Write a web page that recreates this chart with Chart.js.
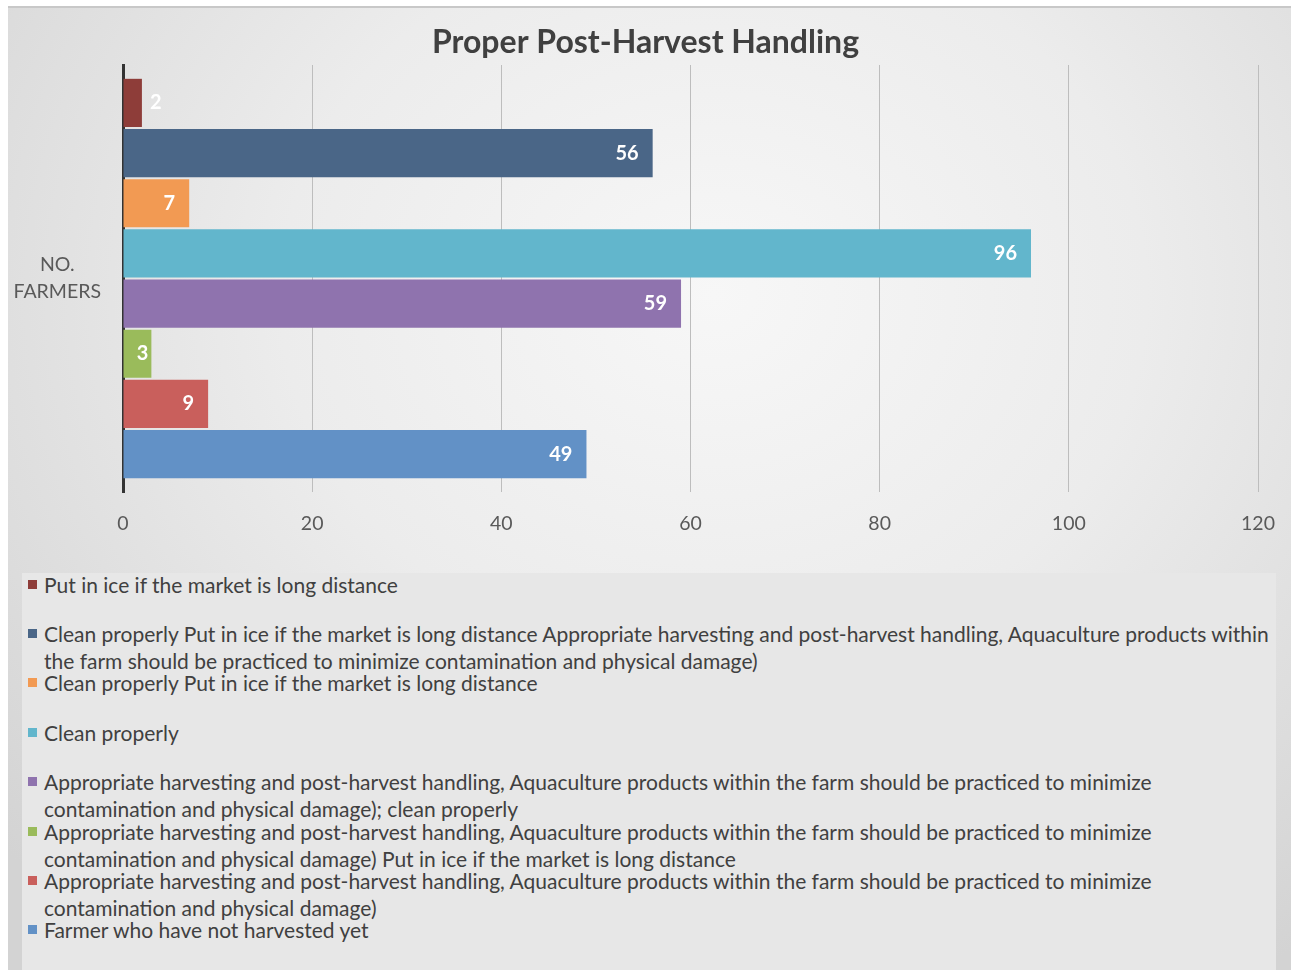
<!DOCTYPE html>
<html>
<head>
<meta charset="utf-8">
<script src="https://cdn.jsdelivr.net/npm/chart.js@4.4.1/dist/chart.umd.min.js"></script>
<style>
    body {
        margin: 0;
        width: 1291px;
        height: 970px;
        overflow: hidden;
        background: #fff;
        font-family: Lato, "Open Sans", sans-serif;
    }
    #frame {
        position: absolute;
        left: 8px;
        top: 6px;
        width: 1283px;
        height: 964px;
        background: radial-gradient(ellipse 75% 85% at 55% 30%, #f7f7f7 0%, #ececec 45%, #d3d3d3 100%);
    }
    #topLine {
        position: absolute;
        left: 0;
        top: 0;
        width: 100%;
        height: 2px;
        background: #c8c8c8;
    }
    #chart {
        position: absolute;
        left: 0;
        top: 0;
    }
    #legend {
        position: absolute;
        left: 14px;
        top: 567px;
        width: 1254px;
        height: 397px;
        background: #e7e7e7;
    }
    .legend-item {
        position: absolute;
        left: 6px;
        width: 1254px;
        display: flex;
        align-items: flex-start;
        color: #404040;
        font-size: 21px;
        line-height: 27px;
    }
    .legend-box {
        flex: none;
        width: 9px;
        height: 9px;
        margin: 9px 7px 0 0;
    }
</style>
</head>
<body>
<div id="frame">
    <div id="topLine"></div>
    <canvas id="chart" width="1283" height="560"></canvas>
    <div id="legend"></div>
</div>

<script>
// ===============================
//  DATA
// ===============================
const CATEGORIES = [["NO.", "FARMERS"]];

const SERIES_LABELS = [
    "Put in ice if the market is long distance",
    "Clean properly Put in ice if the market is long distance Appropriate harvesting and post-harvest handling, Aquaculture products within the farm should be practiced to minimize contamination and physical damage)",
    "Clean properly Put in ice if the market is long distance",
    "Clean properly",
    "Appropriate harvesting and post-harvest handling, Aquaculture products within the farm should be practiced to minimize contamination and physical damage); clean properly",
    "Appropriate harvesting and post-harvest handling, Aquaculture products within the farm should be practiced to minimize contamination and physical damage) Put in ice if the market is long distance",
    "Appropriate harvesting and post-harvest handling, Aquaculture products within the farm should be practiced to minimize contamination and physical damage)",
    "Farmer who have not harvested yet"
];

const SERIES_VALUES = [2, 56, 7, 96, 59, 3, 9, 49];

const SERIES_COLOURS = [
    "#8e3d39", "#4a6687", "#f29a53", "#62b6cc",
    "#8f73ae", "#9abb5b", "#c95f5c", "#6291c6"
];

const X_TICKS = [0, 20, 40, 60, 80, 100, 120];

// ===============================
//  VALUE LABEL PLUGIN
// ===============================
const valueLabels = {
    id: "valueLabels",
    afterDatasetsDraw(chart) {
        const ctx = chart.ctx;
        ctx.save();
        ctx.font = "bold 20px Lato, 'Open Sans', sans-serif";
        ctx.fillStyle = "#ffffff";
        ctx.textBaseline = "middle";

        chart.data.datasets.forEach((ds, i) => {
            const meta = chart.getDatasetMeta(i);
            meta.data.forEach((bar, j) => {
                const text = String(ds.data[j]);
                const w = ctx.measureText(text).width;
                const width = bar.x - bar.base;

                if (width < 2 * w) {
                    ctx.textAlign = "left";
                    ctx.fillText(text, bar.x + 8, bar.y);
                } else {
                    const pad = width < 3 * w ? 3 : 14;
                    ctx.textAlign = "right";
                    ctx.fillText(text, bar.x - pad, bar.y);
                }
            });
        });

        ctx.restore();
    }
};

// title sits a little right of the plot centre, like the source
const shiftTitle = {
    id: "shiftTitle",
    afterLayout(chart) {
        const t = chart.titleBlock;
        if (!t) return;
        t.left += 12.5;
        t.right += 12.5;
    }
};

// ===============================
//  BUILD CHART
// ===============================
function buildChart() {
    const ctx = document.getElementById("chart");

    const datasets = SERIES_LABELS.map((label, i) => ({
        label,
        data: [SERIES_VALUES[i]],
        backgroundColor: SERIES_COLOURS[i],
        categoryPercentage: 0.94,
        barPercentage: 0.96
    }));

    return new Chart(ctx, {
        type: "bar",
        data: { labels: CATEGORIES, datasets },
        options: {
            indexAxis: "y",
            responsive: false,
            animation: false,
            layout: { padding: { left: 0, right: 33, top: 0, bottom: 0 } },
            plugins: {
                legend: { display: false },
                tooltip: { enabled: false },
                title: {
                    display: true,
                    text: "Proper Post-Harvest Handling",
                    color: "#404040",
                    font: { family: "Lato, 'Open Sans', sans-serif", size: 32, weight: "bold" },
                    padding: { top: 17.8, bottom: 2.8 }
                }
            },
            scales: {
                x: {
                    min: 0,
                    max: 120,
                    afterBuildTicks: s => { s.ticks = X_TICKS.map(v => ({ value: v })); },
                    afterFit: s => {
                        s.height = 74;
                        s.paddingLeft = 0;
                        s.paddingRight = 0;
                    },
                    grid: { color: "#bdbdbd", lineWidth: 1, drawTicks: false },
                    border: { display: false },
                    ticks: {
                        color: "#595959",
                        padding: 20,
                        font: { family: "Lato, 'Open Sans', sans-serif", size: 19.5 }
                    }
                },
                y: {
                    afterFit: s => { s.width = 115; },
                    grid: { display: false, drawTicks: false },
                    border: { display: true, color: "#333333", width: 3 },
                    ticks: {
                        color: "#595959",
                        padding: 22,
                        crossAlign: "center",
                        font: { family: "Lato, 'Open Sans', sans-serif", size: 19.5, lineHeight: 1.4 }
                    }
                }
            }
        },
        plugins: [valueLabels, shiftTitle]
    });
}

// ===============================
//  BUILD LEGEND
// ===============================
function buildLegend() {
    const container = document.getElementById("legend");
    container.innerHTML = "";

    SERIES_LABELS.forEach((label, i) => {
        const item = document.createElement("div");
        item.className = "legend-item";
        item.style.top = (-2.5 + 49.4 * i) + "px";
        item.innerHTML = `<span class="legend-box" style="background:${SERIES_COLOURS[i]}"></span><span>${label}</span>`;
        container.appendChild(item);
    });
}

buildChart();
buildLegend();
</script>
</body>
</html>
